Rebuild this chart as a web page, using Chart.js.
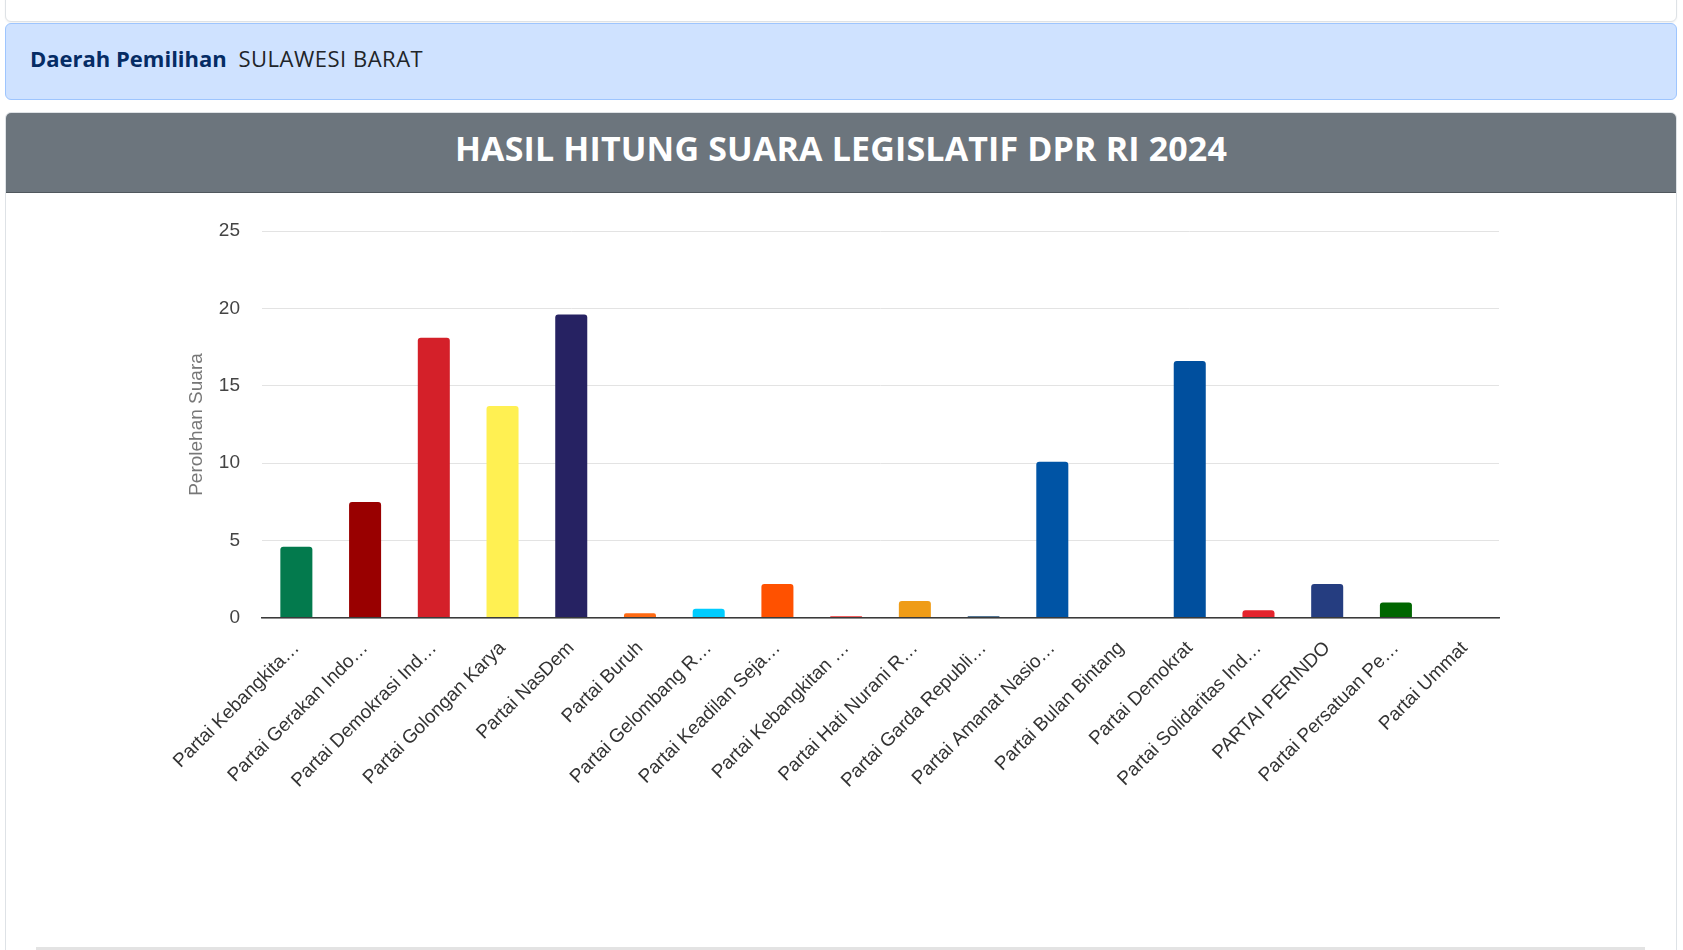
<!DOCTYPE html>
<html>
<head>
<meta charset="utf-8">
<script src="https://cdn.jsdelivr.net/npm/chart.js@4.4.1/dist/chart.umd.min.js"></script>
<style>
  html, body { margin: 0; padding: 0; background: #fff; width: 1683px; height: 950px; overflow: hidden; font-family: "Open Sans", sans-serif; }
  .topcard { position: absolute; left: 5px; top: -12px; width: 1670px; height: 32px; border: 1px solid #dee2e6; border-radius: 6px; background: #fff; box-shadow: 0 1px 2px rgba(0,0,0,0.06); }
  .alert { position: absolute; left: 5px; top: 23px; width: 1670px; height: 75px; background: #cfe2ff; border: 1px solid #9ec5fe; border-radius: 6px; box-sizing: content-box; }
  .alert .txt { position: absolute; left: 24px; top: 0; height: 75px; line-height: 69px; font-size: 22px; color: #212529; white-space: nowrap; }
  .alert .val { letter-spacing: 0.5px; }
  .alert b { color: #052c65; font-weight: 700; margin-right: 6px; }
  .card { position: absolute; left: 5px; top: 112px; width: 1670px; height: 900px; border: 1px solid #dee2e6; border-radius: 6px; background: #fff; overflow: hidden; }
  .card .hdr { height: 79px; background: #6c757d; border-bottom: 1px solid #50575d; color: #fff; font-weight: 700; font-size: 34px; text-align: center; line-height: 71px; letter-spacing: 0.15px; }
  .bottomline { position: absolute; left: 36px; top: 947px; width: 1609px; height: 3px; background: #e3e3e3; }
  #wrap { position: absolute; left: 0; top: 193px; width: 1683px; height: 740px; }
</style>
</head>
<body>
<div class="topcard"></div>
<div class="alert"><div class="txt"><b>Daerah Pemilihan</b> <span class="val">SULAWESI BARAT</span></div></div>
<div class="card"><div class="hdr">HASIL HITUNG SUARA LEGISLATIF DPR RI 2024</div></div>
<div class="bottomline"></div>
<div id="wrap"><canvas id="c"></canvas></div>
<script>
// Category tick labels as shown (truncated by the original chart)
const tickLabels = [
  "Partai Kebangkita\u2026",
  "Partai Gerakan Indo\u2026",
  "Partai Demokrasi Ind\u2026",
  "Partai Golongan Karya",
  "Partai NasDem",
  "Partai Buruh",
  "Partai Gelombang R\u2026",
  "Partai Keadilan Seja\u2026",
  "Partai Kebangkitan \u2026",
  "Partai Hati Nurani R\u2026",
  "Partai Garda Republi\u2026",
  "Partai Amanat Nasio\u2026",
  "Partai Bulan Bintang",
  "Partai Demokrat",
  "Partai Solidaritas Ind\u2026",
  "PARTAI PERINDO",
  "Partai Persatuan Pe\u2026",
  "Partai Ummat"
];
// Perolehan Suara
const perolehanSuara = [4.6, 7.5, 18.1, 13.7, 19.6, 0.3, 0.6, 2.2, 0.12, 1.1, 0.12, 10.1, 0.02, 16.6, 0.5, 2.2, 1.0, 0.03];
const barColors = [
  "#037a4d", "#990000", "#d42029", "#fff052", "#262262", "#ff6a13",
  "#00ccff", "#ff5100", "#ee2b2b", "#ef9c17", "#1d4b73", "#0054a5",
  "#0b6e3b", "#004f9e", "#e4242d", "#253d80", "#006600", "#333333"
];
const yTicks = [0, 5, 10, 15, 20, 25];
const axisTitle = "Perolehan Suara";

const chartFont = "'Liberation Sans', Arial, sans-serif";

new Chart(document.getElementById('c'), {
  type: 'bar',
  data: {
    labels: tickLabels,
    datasets: [{
      data: perolehanSuara,
      backgroundColor: barColors,
      borderRadius: 3,
      borderSkipped: 'start',
      barPercentage: 0.466,
      categoryPercentage: 1.0
    }]
  },
  options: {
    responsive: true,
    maintainAspectRatio: false,
    animation: false,
    layout: { padding: { left: 185, right: 184, top: 38, bottom: 0 } },
    plugins: { legend: { display: false }, tooltip: { enabled: false } },
    scales: {
      x: {
        grid: { display: false, drawTicks: false },
        border: { display: true, color: '#3a3a3a', width: 1.6, z: 1 },
        ticks: {
          autoSkip: false, minRotation: 45, maxRotation: 45,
          padding: 19, color: '#333333',
          font: { family: chartFont, size: 19 }
        },
        afterFit: (s) => { s.height = 740 - (618 - 193); }
      },
      y: {
        min: yTicks[0], max: yTicks[yTicks.length - 1],
        afterBuildTicks: (s) => { s.ticks = yTicks.map(v => ({ value: v })); },
        grid: { color: '#e3e3e3', lineWidth: 1, drawTicks: false },
        border: { display: false },
        ticks: { padding: 22, color: '#444444', font: { family: chartFont, size: 19 } },
        title: { display: true, text: axisTitle, color: '#777777', padding: 0, font: { family: chartFont, size: 19 } },
        afterFit: (s) => { s.width = 262 - 185; }
      }
    }
  }
});
</script>
</body>
</html>
